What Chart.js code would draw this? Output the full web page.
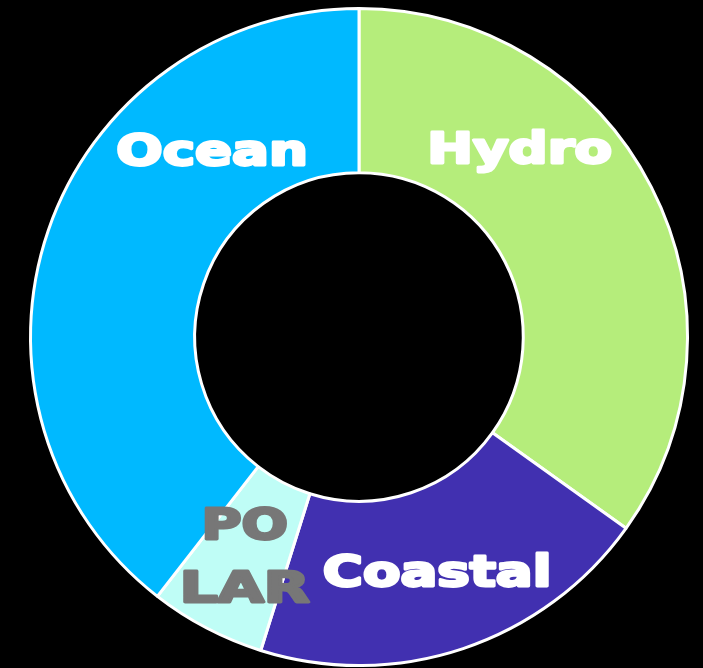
<!DOCTYPE html>
<html>
<head>
<meta charset="utf-8">
<script src="https://cdn.jsdelivr.net/npm/chart.js@4.4.1/dist/chart.umd.min.js"></script>
<style>
  html, body { margin: 0; padding: 0; background: #000; }
  #wrap { width: 703px; height: 668px; }
</style>
</head>
<body>
<div id="wrap"><canvas id="energyChart" width="703" height="668"></canvas></div>
<script>
// categories, in drawing order (clockwise from 12 o'clock)
const categories = ["Hydro", "Coastal", "Polar", "Ocean"];
// label text as drawn on the ring (Polar wraps onto two lines)
const labelLines = [["Hydro"], ["Coastal"], ["PO", "LAR"], ["Ocean"]];
// share of each category (%)
const shares = [35, 20, 5.7, 39.6];

const sliceColors = ["#b5ed7b", "#4130b0", "#bffdf6", "#00b9ff"];
const labelColors = ["#ffffff", "#ffffff", "#777777", "#ffffff"];
// nudges of each label away from the slice middle: angle (deg) and radius (px)
const labelShift = [-22.5, 0, 0, 33];
const labelRadial = [2, 0, 0, -8];

// draws the labels inside the ring, heavy and stretched wide like the original
const ringLabels = {
  id: "ringLabels",
  afterDatasetsDraw(chart) {
    const ctx = chart.ctx;
    const meta = chart.getDatasetMeta(0);
    meta.data.forEach((arc, i) => {
      const p = arc.getProps(["x", "y", "startAngle", "endAngle", "innerRadius", "outerRadius"], true);
      const mid = (p.startAngle + p.endAngle) / 2 + labelShift[i] * Math.PI / 180;
      const r = (p.innerRadius + p.outerRadius) / 2 + labelRadial[i];
      const lx = p.x + Math.cos(mid) * r;
      const ly = p.y + Math.sin(mid) * r;
      const lines = labelLines[i];
      const lineH = 63;
      ctx.save();
      ctx.font = "bold 42px 'DejaVu Sans'";
      ctx.fillStyle = labelColors[i];
      ctx.strokeStyle = labelColors[i];
      ctx.lineWidth = 2.8;
      ctx.lineJoin = "round";
      ctx.textAlign = "center";
      ctx.textBaseline = "alphabetic";
      lines.forEach((txt, k) => {
        const dy = (k - (lines.length - 1) / 2) * lineH;
        ctx.save();
        ctx.translate(lx, ly + dy + 15.5);
        ctx.scale(txt === "LAR" ? 1.42 : 1.3, 1);
        ctx.fillText(txt, 0, 0);
        ctx.strokeText(txt, 0, 0);
        ctx.restore();
      });
      ctx.restore();
    });
  }
};

new Chart(document.getElementById("energyChart"), {
  type: "doughnut",
  data: {
    labels: categories,
    datasets: [{
      data: shares,
      backgroundColor: sliceColors,
      borderColor: "#ffffff",
      borderWidth: 3,
      hoverOffset: 0
    }]
  },
  options: {
    responsive: false,
    animation: false,
    cutout: "50%",
    layout: {
      padding: { top: 7, right: 0, bottom: 1, left: 15 }
    },
    plugins: {
      legend: { display: false },
      tooltip: { enabled: false }
    }
  },
  plugins: [ringLabels]
});
</script>
</body>
</html>
